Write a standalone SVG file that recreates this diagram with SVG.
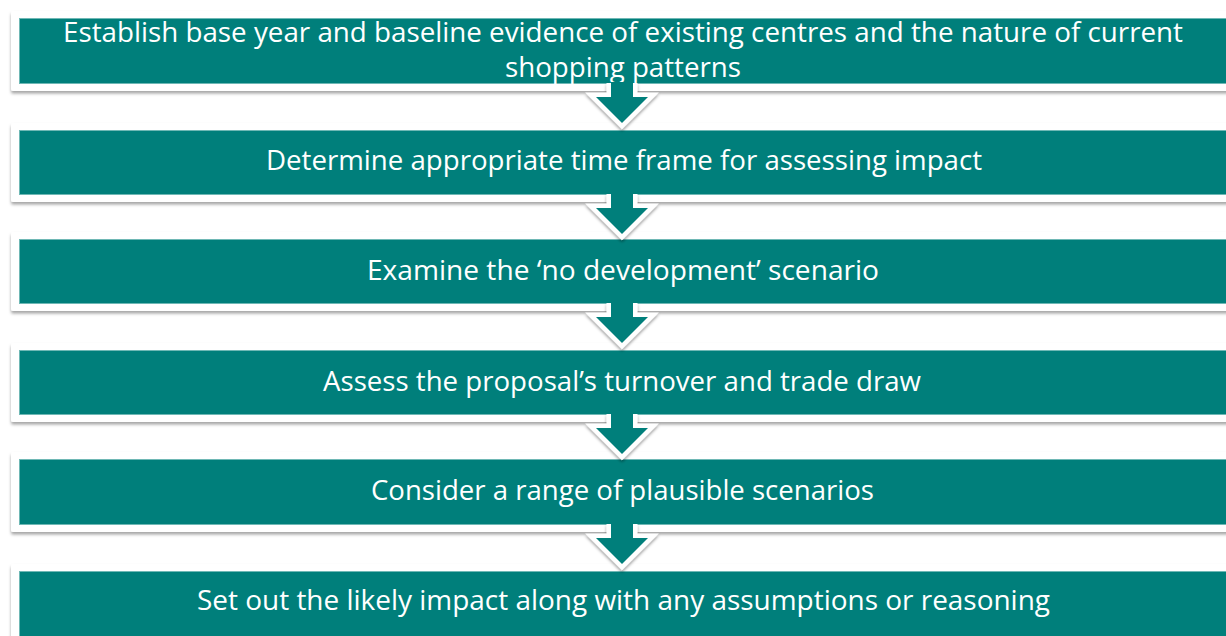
<svg xmlns="http://www.w3.org/2000/svg" width="1226" height="636" viewBox="0 0 1226 636">
  <defs>
    <filter id="frameShadow" x="-5%" y="-30%" width="110%" height="160%">
      <feDropShadow dx="0" dy="2.5" stdDeviation="1.6" flood-color="#000" flood-opacity="0.35"/>
    </filter>
    <filter id="arrowShadow" x="-40%" y="-40%" width="180%" height="180%">
      <feDropShadow dx="0" dy="2" stdDeviation="1.8" flood-color="#000" flood-opacity="0.4"/>
    </filter>
  </defs>
  <style>
    .frame { fill: #ffffff; filter: url(#frameShadow); }
    .bar { fill: #007f7b; stroke: #6fb8b5; stroke-width: 1; }
    .label { fill: #ffffff; font-family: "Open Sans", "Noto Sans", "Liberation Sans", sans-serif; font-size: 28px; text-anchor: middle; }
    .arrow-edge { fill: none; stroke: #ffffff; stroke-width: 9; stroke-linejoin: miter; stroke-miterlimit: 10; filter: url(#arrowShadow); }
    .arrow-body { fill: #007f7b; }
  </style>

  <!-- process steps -->
  <g id="step1">
    <rect class="frame" x="11" y="11" width="1240" height="80" rx="2"/>
    <rect class="bar" x="19.5" y="18.5" width="1230" height="65"/>
    <text class="label" x="623" y="42" textLength="1120" lengthAdjust="spacingAndGlyphs">Establish base year and baseline evidence of existing centres and the nature of current</text>
    <text class="label" x="623" y="77" textLength="236" lengthAdjust="spacingAndGlyphs">shopping patterns</text>
  </g>
  <g id="step2">
    <rect class="frame" x="11" y="123" width="1240" height="79" rx="2"/>
    <rect class="bar" x="19.5" y="130.5" width="1230" height="64"/>
    <text class="label" x="624" y="170" textLength="716" lengthAdjust="spacingAndGlyphs">Determine appropriate time frame for assessing impact</text>
  </g>
  <g id="step3">
    <rect class="frame" x="11" y="232" width="1240" height="79" rx="2"/>
    <rect class="bar" x="19.5" y="239.5" width="1230" height="64"/>
    <text class="label" x="623" y="280" textLength="512" lengthAdjust="spacingAndGlyphs">Examine the ‘no development’ scenario</text>
  </g>
  <g id="step4">
    <rect class="frame" x="11" y="343" width="1240" height="79" rx="2"/>
    <rect class="bar" x="19.5" y="350.5" width="1230" height="64"/>
    <text class="label" x="622" y="391" textLength="598" lengthAdjust="spacingAndGlyphs">Assess the proposal’s turnover and trade draw</text>
  </g>
  <g id="step5">
    <rect class="frame" x="11" y="452" width="1240" height="80" rx="2"/>
    <rect class="bar" x="19.5" y="459.5" width="1230" height="65"/>
    <text class="label" x="622.5" y="500" textLength="503" lengthAdjust="spacingAndGlyphs">Consider a range of plausible scenarios</text>
  </g>
  <g id="step6">
    <rect class="frame" x="11" y="564" width="1240" height="90" rx="2"/>
    <rect class="bar" x="19.5" y="571.5" width="1230" height="80"/>
    <text class="label" x="623.5" y="610" textLength="853" lengthAdjust="spacingAndGlyphs">Set out the likely impact along with any assumptions or reasoning</text>
  </g>

  <!-- down arrows between steps -->
  <g id="connectors">
    <g transform="translate(0,83)">
      <path class="arrow-edge" d="M611,0 V14 H596 L622,40 L648,14 H633 V0"/>
      <path class="arrow-body" d="M611,-1 V14 H596 L622,40 L648,14 H633 V-1 Z"/>
    </g>
    <g transform="translate(0,194)">
      <path class="arrow-edge" d="M611,0 V14 H596 L622,40 L648,14 H633 V0"/>
      <path class="arrow-body" d="M611,-1 V14 H596 L622,40 L648,14 H633 V-1 Z"/>
    </g>
    <g transform="translate(0,303)">
      <path class="arrow-edge" d="M611,0 V14 H596 L622,40 L648,14 H633 V0"/>
      <path class="arrow-body" d="M611,-1 V14 H596 L622,40 L648,14 H633 V-1 Z"/>
    </g>
    <g transform="translate(0,414)">
      <path class="arrow-edge" d="M611,0 V14 H596 L622,40 L648,14 H633 V0"/>
      <path class="arrow-body" d="M611,-1 V14 H596 L622,40 L648,14 H633 V-1 Z"/>
    </g>
    <g transform="translate(0,524)">
      <path class="arrow-edge" d="M611,0 V14 H596 L622,40 L648,14 H633 V0"/>
      <path class="arrow-body" d="M611,-1 V14 H596 L622,40 L648,14 H633 V-1 Z"/>
    </g>
  </g>
</svg>
